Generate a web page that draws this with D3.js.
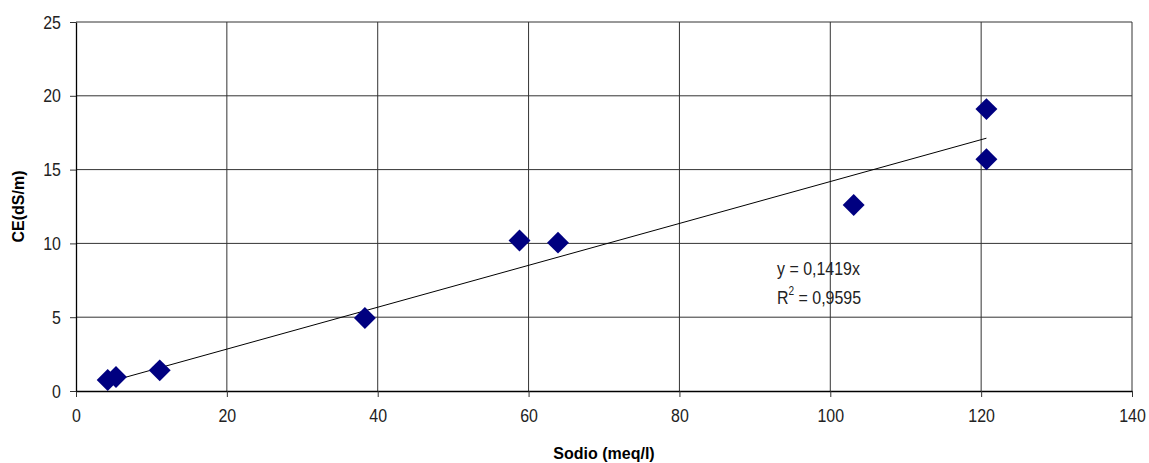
<!DOCTYPE html>
<html>
<head>
<meta charset="utf-8">
<script src="https://cdn.jsdelivr.net/npm/d3@7"></script>
<style>
  body { margin: 0; background: #fff; }
  text { font-family: "Liberation Sans Narrow", "Arial Narrow", "Liberation Sans", Arial, sans-serif; }
</style>
</head>
<body>
<div id="chart"></div>
<script>
// data
var sodio = [4.2, 5.3, 11.1, 38.3, 58.8, 63.9, 103.1, 120.7, 120.7];
var ce    = [0.75, 0.95, 1.4, 4.95, 10.2, 10.05, 12.6, 19.1, 15.7];
var xTicks = [0, 20, 40, 60, 80, 100, 120, 140];
var yTicks = [0, 5, 10, 15, 20, 25];
var slope = 0.1419;
var eqLines = ["y = 0,1419x", "R", " = 0,9595"];

var width = 1149, height = 463;
var margin = {top: 22, right: 17, bottom: 72, left: 76};
var narrow = 0.84; // no narrow font installed, squeeze the regular one

var svg = d3.select("#chart").append("svg")
  .attr("width", width)
  .attr("height", height);

var x = d3.scaleLinear().domain([0, 140]).range([margin.left, width - margin.right]);
var y = d3.scaleLinear().domain([0, 25]).range([height - margin.bottom, margin.top]);

// grid
svg.append("g").selectAll("line")
  .data(xTicks.slice(1))
  .enter().append("line")
  .attr("x1", function(d) { return x(d); })
  .attr("x2", function(d) { return x(d); })
  .attr("y1", y(0)).attr("y2", y(25))
  .attr("stroke", "#333").attr("stroke-width", 1);

svg.append("g").selectAll("line")
  .data(yTicks.slice(1))
  .enter().append("line")
  .attr("x1", x(0)).attr("x2", x(140))
  .attr("y1", function(d) { return y(d); })
  .attr("y2", function(d) { return y(d); })
  .attr("stroke", "#333").attr("stroke-width", 1);

// axes
var xAxis = svg.append("g")
  .attr("transform", "translate(0," + y(0) + ")")
  .call(d3.axisBottom(x).tickValues(xTicks).tickSize(6).tickPadding(12).tickSizeOuter(0));
var yAxis = svg.append("g")
  .attr("transform", "translate(" + x(0) + ",0)")
  .call(d3.axisLeft(y).tickValues(yTicks).tickSize(6).tickPadding(12).tickSizeOuter(0));

[xAxis, yAxis].forEach(function(a) {
  a.select(".domain").attr("stroke", "#000").attr("stroke-width", 1.3);
  a.selectAll(".tick line").attr("stroke", "#333");
  a.selectAll(".tick text").attr("fill", "#222").style("font-size", "19px")
    .attr("transform", "scale(" + narrow + ",1)");
});

// trend line
var xmin = d3.min(sodio), xmax = d3.max(sodio);
svg.append("line")
  .attr("x1", x(xmin)).attr("y1", y(slope * xmin))
  .attr("x2", x(xmax)).attr("y2", y(slope * xmax))
  .attr("stroke", "#000").attr("stroke-width", 1);

// points
var diamond = d3.symbol().type(d3.symbolSquare).size(240);
svg.append("g").selectAll("path")
  .data(sodio)
  .enter().append("path")
  .attr("d", diamond)
  .attr("transform", function(d, i) { return "translate(" + x(d) + "," + y(ce[i]) + ") rotate(45)"; })
  .attr("fill", "#000080");

// equation
var eq = svg.append("g").attr("fill", "#222").style("font-size", "19px")
  .attr("transform", "translate(777,0) scale(" + narrow + ",1)");
eq.append("text").attr("x", 0).attr("y", 275).text(eqLines[0]);
var r2 = eq.append("text").attr("x", 0).attr("y", 304);
r2.append("tspan").text(eqLines[1]);
r2.append("tspan").attr("dy", -9).style("font-size", "12px").text("2");
r2.append("tspan").attr("dy", 9).text(eqLines[2]);

// titles
svg.append("text")
  .attr("x", x(70)).attr("y", 459)
  .attr("text-anchor", "middle")
  .style("font-size", "16px").style("font-weight", "bold")
  .text("Sodio (meq/l)");

svg.append("text")
  .attr("transform", "translate(24," + y(12.5) + ") rotate(-90)")
  .attr("text-anchor", "middle")
  .style("font-size", "16px").style("font-weight", "bold")
  .text("CE(dS/m)");
</script>
</body>
</html>
